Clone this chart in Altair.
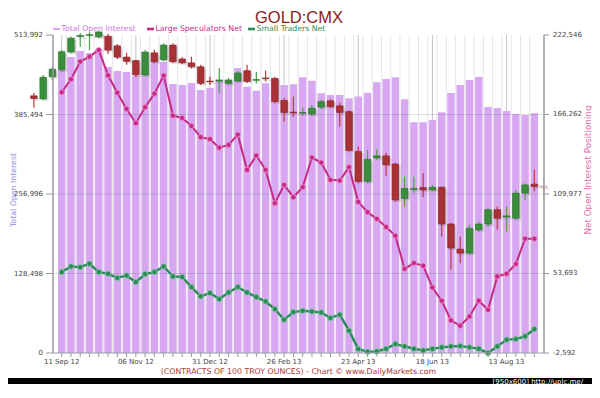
import altair as alt
import pandas as pd

# ---------------- data ----------------
TITLE = "GOLD:CMX"
SERIES = ["Total Open Interest", "Large Speculators Net", "Small Traders Net"]
SERIES_COLORS = ["#CC77DD", "#C42A86", "#2E8B57"]
CAPTION = "(CONTRACTS OF 100 TROY OUNCES)  - Chart \u00a9 www.DailyMarkets.com"
LEFT_TITLE = "Total Open Interest"
RIGHT_TITLE = "Net Open Interest Positioning"
WATERMARK = "[950x600] http://uplc.me/"

week_index = list(range(52))
label_weeks = [0, 8, 16, 24, 32, 40, 48]
label_text = ["11 Sep 12", "06 Nov 12", "31 Dec 12", "26 Feb 13", "23 Apr 13", "18 Jun 13", "13 Aug 13"]
left_ticks = [0, 128498, 256996, 385494, 513992]
right_ticks = [-2592, 53693, 109977, 166262, 222546]

# thousands of contracts
total_oi = [457.5, 478.5, 488.2, 484.9, 491.4, 462.3, 455.9, 454.2, 447.8, 460.7,
            472.0, 470.4, 434.9, 433.3, 436.5, 425.2, 428.4, 441.3, 441.3, 460.7,
            430.5, 424.0, 436.0, 444.1, 433.3, 434.4, 445.7, 440.2, 419.8, 417.1,
            417.1, 411.8, 414.4, 420.8, 437.6, 442.9, 445.7, 410.2, 373.0, 373.0,
            376.7, 389.2, 420.3, 433.3, 441.3, 446.2, 397.7, 396.1, 391.3, 386.4,
            384.8, 387.6]
large_spec = [182.0, 191.2, 203.7, 207.2, 211.9, 194.0, 181.7, 170.2, 160.1, 171.4,
              181.0, 193.8, 165.5, 163.8, 158.2, 150.2, 148.8, 142.8, 144.7, 152.0,
              127.1, 137.2, 127.1, 103.5, 116.4, 107.7, 114.8, 135.8, 132.2, 120.0,
              119.5, 129.0, 104.4, 97.1, 92.4, 86.7, 80.4, 57.0, 61.1, 59.2,
              43.8, 34.4, 20.5, 16.7, 23.3, 34.4, 28.0, 51.6, 53.5, 60.4,
              78.3, 78.3]
small_traders = [54.7, 58.7, 58.2, 60.6, 54.7, 53.5, 50.5, 52.3, 47.6, 53.3,
                 54.7, 58.7, 51.6, 51.2, 44.1, 37.5, 39.9, 35.6, 40.3, 44.1,
                 40.3, 37.0, 33.9, 28.5, 21.0, 26.4, 27.3, 26.8, 26.1, 22.2,
                 24.5, 13.2, 0.2, -1.7, -1.5, 0.4, 3.8, 2.1, 0.4, -0.8,
                 0.4, 1.4, 2.1, 2.4, 1.4, 0.4, -2.6, 2.1, 6.8, 7.3,
                 9.2, 14.4]

# weekly gold price candles (USD/oz)
candle_weeks = list(range(-3, 53))
c_open = [1629, 1621, 1678, 1696, 1742, 1782, 1785, 1781, 1783, 1758,
          1729, 1720, 1683, 1740, 1722, 1760, 1724, 1714, 1704, 1667,
          1667, 1661, 1667, 1694, 1669, 1675, 1674, 1617, 1587, 1584,
          1582, 1600, 1616, 1603, 1588, 1485, 1408, 1469, 1474, 1453,
          1364, 1387, 1392, 1386, 1393, 1298, 1233, 1223, 1283, 1298,
          1335, 1316, 1313, 1378, 1401, 1396]
c_high = [1636, 1683, 1704, 1747, 1782, 1791, 1794, 1796, 1789, 1763,
          1740, 1722, 1747, 1747, 1765, 1765, 1729, 1730, 1709, 1678,
          1701, 1675, 1693, 1709, 1691, 1694, 1678, 1623, 1627, 1598,
          1605, 1618, 1621, 1611, 1591, 1498, 1489, 1492, 1482, 1455,
          1420, 1420, 1430, 1399, 1395, 1301, 1266, 1296, 1304, 1339,
          1343, 1343, 1386, 1403, 1438, 1420]
c_low = [1598, 1618, 1670, 1691, 1739, 1755, 1747, 1778, 1737, 1724,
         1709, 1678, 1680, 1714, 1719, 1714, 1711, 1700, 1657, 1657,
         1636, 1657, 1665, 1662, 1661, 1666, 1610, 1562, 1575, 1577,
         1577, 1595, 1598, 1549, 1485, 1403, 1403, 1464, 1422, 1356,
         1343, 1378, 1368, 1384, 1266, 1180, 1197, 1218, 1279, 1291,
         1283, 1279, 1309, 1360, 1382, 1360]
c_close = [1622, 1677, 1698, 1743, 1778, 1785, 1787, 1794, 1747, 1729,
           1718, 1683, 1742, 1717, 1760, 1717, 1714, 1704, 1661, 1665,
           1670, 1670, 1688, 1666, 1671, 1673, 1614, 1586, 1585, 1586,
           1597, 1614, 1601, 1586, 1488, 1408, 1465, 1474, 1451, 1360,
           1390, 1390, 1386, 1393, 1298, 1236, 1223, 1287, 1298, 1335,
           1313, 1319, 1378, 1399, 1395, 1393]

# ---------------- tables ----------------
weekly = pd.DataFrame({
    "i": week_index,
    "oi": [round(v * 1000) for v in total_oi],
    "ls": [round(v * 1000) for v in large_spec],
    "st": [round(v * 1000) for v in small_traders],
})
candles = pd.DataFrame({"i": candle_weeks, "open": c_open, "high": c_high,
                        "low": c_low, "close": c_close})
half_grid = pd.DataFrame({"i": [w + 0.5 for w in week_index[:-1]]})
major_grid = pd.DataFrame({"i": label_weeks})
week_ticks = pd.DataFrame({"i": week_index})
x_labels = pd.DataFrame({"i": label_weeks, "t": label_text})
left_df = pd.DataFrame({"v": left_ticks})
right_df = pd.DataFrame({"v": right_ticks})
hgrid = pd.DataFrame({"v": left_ticks[1:-1]})

W, H = 491, 318
FONT = "DejaVu Sans"
N = len(week_index)
AXIS_GREY = "#9a9aa8"
TICK_GREY = "#999999"
LABEL_GREY = "#444444"

xs = alt.Scale(domain=[-0.4, 51.5], nice=False, zero=False)
left_scale = alt.Scale(domain=[left_ticks[0], left_ticks[-1]], nice=False, zero=False)
right_scale = alt.Scale(domain=[right_ticks[0], right_ticks[-1]], nice=False, zero=False)
price_scale = alt.Scale(domain=[965, 1786], nice=False, zero=False)


def X():
    return alt.X("i:Q", scale=xs, axis=None)


def YL(f="v"):
    return alt.Y(f"{f}:Q", scale=left_scale, axis=None)


def YR(f="v"):
    return alt.Y(f"{f}:Q", scale=right_scale, axis=None)


one = pd.DataFrame({"k": [0]})

black_bottom = alt.Chart(one).mark_rect(color="#000000").encode(
    x=alt.value(-60), x2=alt.value(560), y=alt.value(343), y2=alt.value(380))

vgrid_light = alt.Chart(half_grid).mark_rule(color="#e6e6ea", strokeWidth=1).encode(
    x=X(), y=alt.value(0), y2=alt.value(H))
vgrid_major = alt.Chart(major_grid).mark_rule(color="#c4c4cc", strokeWidth=1).encode(
    x=X(), y=alt.value(0), y2=alt.value(H))

bars = alt.Chart(weekly).mark_bar(size=7.4, color="#D8A7F2", orient="vertical").encode(
    x=X(), y=YL("oi"), y2=alt.datum(0))
hgrid_rules = alt.Chart(hgrid).mark_rule(color="#000000", opacity=0.12, strokeWidth=1).encode(
    y=YL(), x=alt.value(0), x2=alt.value(W))

up = "datum.close >= datum.open"
faint = alt.condition(f"datum.i >= {N}", alt.value(0.35), alt.value(1.0))
cshadow = alt.Chart(candles).transform_calculate(
    sx="datum.i + 0.2", slo="min(datum.open, datum.close) - 5", shi="max(datum.open, datum.close) - 5"
).mark_bar(size=7, color="#555555", opacity=0.18, orient="vertical", stroke="#555555",
           strokeWidth=2, strokeOpacity=0.1).encode(
    x=alt.X("sx:Q", scale=xs, axis=None),
    y=alt.Y("slo:Q", scale=price_scale, axis=None), y2="shi:Q")
wicks = alt.Chart(candles).mark_rule(strokeWidth=1.2).encode(
    x=X(), y=alt.Y("low:Q", scale=price_scale, axis=None), y2="high:Q",
    color=alt.condition(up, alt.value("#49A54A"), alt.value("#C03A3A")), opacity=faint)
bodies = alt.Chart(candles).mark_bar(size=6.6, orient="vertical", strokeWidth=0.6).encode(
    x=X(), y=alt.Y("open:Q", scale=price_scale, axis=None), y2="close:Q",
    color=alt.condition(up, alt.value("#3A8D3C"), alt.value("#A83236")),
    stroke=alt.condition(up, alt.value("#2C6E2E"), alt.value("#862026")), opacity=faint)

st_line = alt.Chart(weekly).mark_line(color="#2A8A5A", strokeWidth=2.4).encode(x=X(), y=YR("st"))
st_pts = alt.Chart(weekly).mark_circle(size=30, fill="#2E8B57", stroke="#86D0AA",
                                       strokeWidth=0.8, opacity=1).encode(x=X(), y=YR("st"))
ls_line = alt.Chart(weekly).mark_line(color="#C42A86", strokeWidth=2).encode(x=X(), y=YR("ls"))
ls_pts = alt.Chart(weekly).mark_circle(size=28, fill="#C42A86", stroke="#F29AD0",
                                       strokeWidth=0.8, opacity=1).encode(x=X(), y=YR("ls"))

# ---- axes drawn from the tick arrays through the scales ----
x_domain = alt.Chart(one).mark_rule(color=AXIS_GREY, strokeWidth=1).encode(
    x=alt.value(0), x2=alt.value(W), y=alt.value(H))
x_tick_marks = alt.Chart(week_ticks).mark_rule(color=TICK_GREY, strokeWidth=1).encode(
    x=X(), y=alt.value(H), y2=alt.value(H + 4))
x_tick_labels = alt.Chart(x_labels).mark_text(
    fontSize=7, font=FONT, color=LABEL_GREY, baseline="middle", align="center").encode(
    x=X(), y=alt.value(H + 9), text="t:N")

l_domain = alt.Chart(one).mark_rule(color=AXIS_GREY, strokeWidth=1.5).encode(
    x=alt.value(0), y=alt.value(0), y2=alt.value(H))
l_ticks = alt.Chart(left_df).mark_rule(color=TICK_GREY, strokeWidth=1).encode(
    y=YL(), x=alt.value(-7), x2=alt.value(0))
l_labels = alt.Chart(left_df).transform_calculate(
    lab="format(datum.v, ',d')").mark_text(
    fontSize=7, font=FONT, color=LABEL_GREY, baseline="middle", align="right").encode(
    y=YL(), x=alt.value(-10), text="lab:N")

r_domain = alt.Chart(one).mark_rule(color=AXIS_GREY, strokeWidth=1.5).encode(
    x=alt.value(W), y=alt.value(0), y2=alt.value(H))
r_ticks = alt.Chart(right_df).mark_rule(color=TICK_GREY, strokeWidth=1).encode(
    y=YR(), x=alt.value(W), x2=alt.value(W + 5))
r_labels = alt.Chart(right_df).transform_calculate(
    lab="(datum.v < 0 ? '-' : '') + format(abs(datum.v), ',d')").mark_text(
    fontSize=7, font=FONT, color=LABEL_GREY, baseline="middle", align="left").encode(
    y=YR(), x=alt.value(W + 9), text="lab:N")


def text(s, x, y, size, color, align="center", angle=0, font=FONT):
    return alt.Chart(pd.DataFrame({"t": [s]})).mark_text(
        align=align, baseline="middle", fontSize=size, color=color, font=font, angle=angle
    ).encode(text="t:N", x=alt.value(x), y=alt.value(y))


title = text(TITLE, 246, -17.5, 16.5, "#8B1A22", font="Liberation Sans")

LEGEND_X = [0, 94, 195]
LEGEND_W = [1.3, 2.6, 2.6]
legend = []
for name, col, lx, lw in zip(SERIES, SERIES_COLORS, LEGEND_X, LEGEND_W):
    legend.append(alt.Chart(one).mark_rule(color=col, strokeWidth=lw).encode(
        x=alt.value(lx), x2=alt.value(lx + 7), y=alt.value(-6)))
    legend.append(text(name, lx + 8.5, -6, 7.8, col, align="left"))

left_title = text(LEFT_TITLE, -39, 155, 7.8, "#8C8CEB", angle=270)
right_title = text(RIGHT_TITLE, 535, 135, 8.8, "#E070AC", angle=270)
caption = text(CAPTION, 245.5, 337, 7.8, "#A83434")
watermark = text(WATERMARK, 530, 346.5, 7, "#ffffff", align="right")

chart = alt.layer(
    black_bottom, vgrid_light, vgrid_major,
    bars, hgrid_rules, cshadow, wicks, bodies,
    st_line, st_pts, ls_line, ls_pts,
    x_domain, x_tick_marks, x_tick_labels,
    l_domain, l_ticks, l_labels, r_domain, r_ticks, r_labels,
    title, *legend, left_title, right_title, caption, watermark
).resolve_scale(y="independent").properties(
    width=W, height=H, background="#ffffff",
    autosize=alt.AutoSizeParams(type="none"),
    padding={"left": 45, "top": 27, "right": 48, "bottom": 31},
).configure_view(stroke=None)

chart.save("out.html", embed_options={"renderer": "svg", "actions": False})
